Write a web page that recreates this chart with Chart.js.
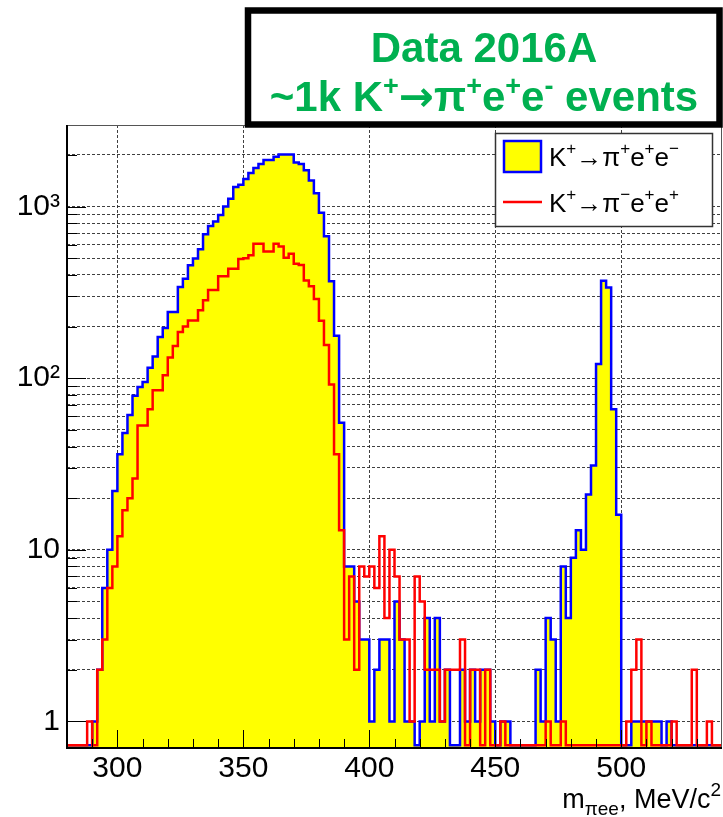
<!DOCTYPE html>
<html>
<head>
<meta charset="utf-8">
<script src="https://cdn.jsdelivr.net/npm/chart.js@4.4.1/dist/chart.umd.min.js"></script>
<style>
  html, body { margin: 0; padding: 0; background: #ffffff; }
  canvas { display: block; }
</style>
</head>
<body>
<canvas id="hist" width="723" height="817"></canvas>
<script>
// m(pi e e) histogram: 2 MeV/c^2 bins from 280 to 540 MeV/c^2
const BIN_LO = 280;
const BIN_W = 2;
const N_BINS = 130;
const binEdges = Array.from({ length: N_BINS + 1 }, (_, i) => BIN_LO + i * BIN_W);

// K+ -> pi+ e+ e-  (entries per bin, rows of 10 bins starting at 280, 300, 320, ...)
const piPlusEE = [
  0, 0, 0, 0, 0, 1, 2, 6, 10, 22,                           // 280
  36, 48, 61, 79, 89, 95, 115, 134, 174, 196,               // 300
  243, 243, 340, 380, 455, 498, 565, 690, 772, 820,         // 320
  895, 1000, 1110, 1300, 1340, 1450, 1570, 1680, 1770, 1870,// 340
  1870, 1950, 2010, 2010, 2010, 1810, 1770, 1630, 1420, 1195,// 360
  920, 673, 367, 177, 55, 8, 8, 5, 3, 3,                    // 380
  1, 2, 3, 3, 1, 5, 3, 1, 1, 0,                             // 400
  1, 4, 1, 4, 1, 2, 0, 0, 2, 1,                             // 420
  2, 1, 2, 2, 1, 0, 1, 1, 0, 0,                             // 440
  0, 0, 0, 2, 1, 4, 3, 1, 8, 4,                             // 460
  9, 13, 10, 21, 31, 121, 370, 338, 66, 16,                 // 480
  0, 0, 1, 1, 1, 1, 1, 1, 0, 1,                             // 500
  0, 0, 0, 0, 0, 0, 0, 0, 0, 0                              // 520
];

// K+ -> pi- e+ e+  (same binning)
const piMinusEE = [
  0, 0, 0, 0, 1, 0, 2, 3, 6, 8,                             // 280
  12, 17, 20, 26, 53, 53, 66, 85, 85, 104,                  // 300
  132, 154, 186, 200, 217, 217, 249, 285, 327, 327,         // 320
  393, 393, 434, 434, 496, 500, 520, 608, 608, 548,         // 340
  548, 608, 586, 503, 532, 465, 457, 371, 344, 290,         // 360
  216, 156, 92, 36, 13, 3, 7, 2, 8, 7,                      // 380
  8, 6, 12, 4, 10, 7, 3, 3, 1, 7,                           // 400
  5, 2, 2, 2, 1, 2, 2, 2, 3, 0,                             // 420
  2, 2, 0, 2, 0, 0, 1, 0, 0, 0,                             // 440
  0, 0, 0, 0, 0, 1, 0, 0, 1, 0,                             // 460
  0, 0, 0, 0, 0, 0, 0, 0, 0, 0,                             // 480
  0, 1, 2, 3, 0, 1, 0, 0, 0, 0,                             // 500
  1, 0, 0, 0, 2, 0, 0, 1, 0, 0                              // 520
];

// axis ticks and labels
const X_MIN = 280, X_MAX = 540;
const Y_MIN = 0.726, Y_MAX = 2990;
const xLabelTicks = [300, 350, 400, 450, 500];
const xTickMarks = [290, 300, 310, 320, 330, 340, 350, 360, 370, 380, 390, 400, 410,
                    420, 430, 440, 450, 460, 470, 480, 490, 500, 510, 520, 530];
const yDecades = [1, 10, 100, 1000];
const yDecadeLabels = { 1: '1', 10: '10', 100: '10\u00B2', 1000: '10\u00B3' };
const yTickValues = [];
yDecades.forEach(d => { for (let k = 1; k <= 9; k++) { const v = k * d; if (v >= Y_MIN && v <= Y_MAX) yTickValues.push(v); } });

const FONT = "'Liberation Sans', Arial, Helvetica, sans-serif";
const GREEN = '#00b050';
const GRID = 'rgba(30,30,30,0.85)';

// Histogram outline as left-edge points; empty bins sit on the bottom of the log axis
function stepPoints(values) {
  const pts = values.map((v, i) => ({ x: binEdges[i], y: v > 0 ? v : Y_MIN }));
  pts.push({ x: binEdges[N_BINS], y: pts[pts.length - 1].y });
  return pts;
}

function drawRuns(ctx, runs, x, baseline) {
  runs.forEach(r => {
    ctx.font = r.font;
    ctx.fillText(r.t, x, baseline + (r.dy || 0));
    x += ctx.measureText(r.t).width;
  });
}
function runsWidth(ctx, runs) {
  let w = 0;
  runs.forEach(r => { ctx.font = r.font; w += ctx.measureText(r.t).width; });
  return w;
}

// inward tick marks and the frame, drawn over the filled histogram
const axisFrame = {
  id: 'axisFrame',
  afterDatasetsDraw(chart) {
    const { ctx, chartArea: a, scales: { x, y } } = chart;
    ctx.save();
    ctx.strokeStyle = '#000';
    ctx.lineWidth = 1;
    ctx.beginPath();
    xTickMarks.forEach(v => {
      const px = Math.round(x.getPixelForValue(v)) + 0.5;
      const len = xLabelTicks.includes(v) ? 18 : 9;
      ctx.moveTo(px, a.bottom); ctx.lineTo(px, a.bottom - len);
    });
    yTickValues.forEach(v => {
      const py = Math.round(y.getPixelForValue(v)) + 0.5;
      const len = yDecades.includes(v) ? 19 : 10;
      ctx.moveTo(a.left, py); ctx.lineTo(a.left + len, py);
    });
    ctx.stroke();
    // frame
    ctx.strokeStyle = '#555';
    ctx.lineWidth = 1;
    ctx.strokeRect(a.left + 0.5, a.top + 0.5, a.right - a.left - 1, a.bottom - a.top - 1);
    ctx.strokeStyle = '#000';
    ctx.lineWidth = 2;
    ctx.beginPath();
    ctx.moveTo(a.left, a.top); ctx.lineTo(a.left, a.bottom); ctx.lineTo(a.right, a.bottom);
    ctx.stroke();
    ctx.restore();
  }
};

// title box, legend and axis title
const annotations = {
  id: 'annotations',
  afterDraw(chart) {
    const ctx = chart.ctx;
    ctx.save();
    ctx.textBaseline = 'alphabetic';
    ctx.textAlign = 'left';

    // title box
    ctx.fillStyle = '#fff';
    ctx.fillRect(245, 7, 477, 120);
    ctx.strokeStyle = '#000';
    ctx.lineWidth = 6.5;
    ctx.strokeRect(248, 10.5, 471.5, 114);

    ctx.fillStyle = GREEN;
    const tb = 'bold 42px ' + FONT;
    const ts = 'bold 27px ' + FONT;
    const line1 = [{ t: 'Data 2016A', font: tb }];
    drawRuns(ctx, line1, 484 - runsWidth(ctx, line1) / 2, 62);
    const line2 = [
      { t: '~1k K', font: tb }, { t: '+', font: ts, dy: -16 },
      { t: '\u2192', font: "bold 42px 'DejaVu Sans', sans-serif" },
      { t: '\u03C0', font: tb }, { t: '+', font: ts, dy: -16 },
      { t: 'e', font: tb }, { t: '+', font: ts, dy: -16 },
      { t: 'e', font: tb }, { t: '-', font: ts, dy: -16 },
      { t: ' events', font: tb }
    ];
    drawRuns(ctx, line2, 484 - runsWidth(ctx, line2) / 2, 111);

    // legend
    ctx.fillStyle = '#fff';
    ctx.fillRect(495, 133, 218, 94);
    ctx.strokeStyle = '#333';
    ctx.lineWidth = 1.5;
    ctx.strokeRect(495.5, 133.5, 217, 93);

    ctx.fillStyle = '#ffff00';
    ctx.fillRect(504, 141, 37, 31);
    ctx.strokeStyle = '#0000ff';
    ctx.lineWidth = 2.5;
    ctx.strokeRect(504, 141, 37, 31);

    ctx.strokeStyle = '#ff0000';
    ctx.lineWidth = 2.5;
    ctx.beginPath(); ctx.moveTo(503, 202); ctx.lineTo(542, 202); ctx.stroke();

    ctx.fillStyle = '#000';
    const lf = '26px ' + FONT;
    const ls = '17px ' + FONT;
    const entry1 = [
      { t: 'K', font: lf }, { t: '+', font: ls, dy: -12 }, { t: '\u2192', font: lf },
      { t: '\u03C0', font: lf }, { t: '+', font: ls, dy: -12 },
      { t: 'e', font: lf }, { t: '+', font: ls, dy: -12 },
      { t: 'e', font: lf }, { t: '\u2212', font: ls, dy: -12 }
    ];
    const entry2 = [
      { t: 'K', font: lf }, { t: '+', font: ls, dy: -12 }, { t: '\u2192', font: lf },
      { t: '\u03C0', font: lf }, { t: '\u2212', font: ls, dy: -12 },
      { t: 'e', font: lf }, { t: '+', font: ls, dy: -12 },
      { t: 'e', font: lf }, { t: '+', font: ls, dy: -12 }
    ];
    drawRuns(ctx, entry1, 549, 166);
    drawRuns(ctx, entry2, 549, 212);

    // x-axis title
    const af = '27px ' + FONT;
    const asub = '19px ' + FONT;
    const xTitle = [
      { t: 'm', font: af }, { t: '\u03C0ee', font: asub, dy: 7 },
      { t: ', MeV/c', font: af }, { t: '2', font: asub, dy: -12 }
    ];
    drawRuns(ctx, xTitle, 721 - runsWidth(ctx, xTitle), 808);
    ctx.restore();
  }
};

new Chart(document.getElementById('hist'), {
  type: 'line',
  data: {
    datasets: [
      {
        label: 'K+\u2192\u03C0\u2212e+e+',
        data: stepPoints(piMinusEE),
        stepped: 'before',
        borderColor: '#ff0000',
        borderWidth: 2.5,
        pointRadius: 0,
        fill: false,
        order: 0
      },
      {
        label: 'K+\u2192\u03C0+e+e\u2212',
        data: stepPoints(piPlusEE),
        stepped: 'before',
        borderColor: '#0000ff',
        borderWidth: 2.5,
        backgroundColor: '#ffff00',
        fill: 'start',
        pointRadius: 0,
        order: 1
      }
    ]
  },
  options: {
    responsive: false,
    animation: false,
    devicePixelRatio: 1,
    layout: { padding: { left: 0, top: 125, right: 1, bottom: 0 } },
    plugins: { legend: { display: false }, tooltip: { enabled: false } },
    scales: {
      x: {
        type: 'linear',
        min: X_MIN,
        max: X_MAX,
        afterBuildTicks: s => { s.ticks = xLabelTicks.map(v => ({ value: v })); },
        afterFit: s => { s.height = 69; },
        grid: { color: GRID, lineWidth: 1, drawTicks: false },
        border: { display: false, dash: [3, 2] },
        ticks: {
          autoSkip: false, maxRotation: 0, padding: 3, color: '#000',
          font: { family: FONT, size: 30 },
          callback: v => String(v)
        }
      },
      y: {
        type: 'logarithmic',
        min: Y_MIN,
        max: Y_MAX,
        afterBuildTicks: s => { s.ticks = yTickValues.map(v => ({ value: v, major: yDecades.includes(v) })); },
        afterFit: s => { s.width = 67; },
        grid: { color: GRID, lineWidth: 1, drawTicks: false },
        border: { display: false, dash: [3, 2] },
        ticks: {
          autoSkip: false, padding: 7, color: '#000',
          font: { family: FONT, size: 30 },
          callback: v => yDecadeLabels[v] || ''
        }
      }
    }
  },
  plugins: [axisFrame, annotations]
});
</script>
</body>
</html>
